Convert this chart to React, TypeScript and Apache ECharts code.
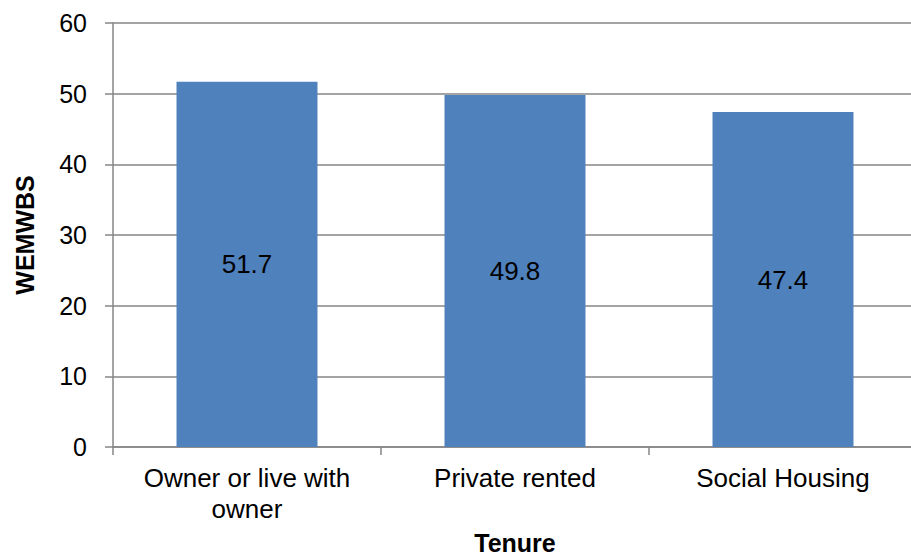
import React, { useEffect, useRef } from "react";
import * as echarts from "echarts";

const categories = ["Owner or live with\nowner", "Private rented", "Social Housing"];
const values = [51.7, 49.8, 47.4];
const yTicks = { min: 0, max: 60, interval: 10 };

export default function App() {
  const ref = useRef<HTMLDivElement>(null);
  useEffect(() => {
    const chart = echarts.init(ref.current!, null, { renderer: "svg" });
    const font = "'Liberation Sans', Arial, sans-serif";
    chart.setOption({
      animation: false,
      textStyle: { fontFamily: font },
      grid: {
        left: 113,
        top: 23,
        width: 804,
        height: 424,
        containLabel: false,
        outerBoundsMode: "none",
      },
      xAxis: {
        type: "category",
        data: categories,
        name: "Tenure",
        nameLocation: "middle",
        nameGap: 85,
        nameTextStyle: {
          fontSize: 25,
          lineHeight: 22,
          fontWeight: "bold",
          color: "#000",
          fontFamily: font,
        },
        axisLine: { lineStyle: { color: "#868686", width: 1.5 } },
        axisTick: { show: true, interval: 0, length: 8, lineStyle: { color: "#868686", width: 1.5 } },
        axisLabel: {
          interval: 0,
          hideOverlap: false,
          fontSize: 26,
          color: "#000",
          margin: 15,
          lineHeight: 31,
          fontFamily: font,
        },
      },
      yAxis: {
        type: "value",
        min: yTicks.min,
        max: yTicks.max,
        interval: yTicks.interval,
        name: "WEMWBS",
        nameLocation: "middle",
        nameGap: 76,
        nameTextStyle: { fontSize: 25, fontWeight: "bold", color: "#000", fontFamily: font },
        axisLine: { show: true, lineStyle: { color: "#868686", width: 1.5 } },
        axisTick: { show: true, length: 8, lineStyle: { color: "#868686", width: 1.5 } },
        axisLabel: { fontSize: 25, color: "#000", margin: 26, fontFamily: font },
        splitLine: { show: true, lineStyle: { color: "#868686", width: 1.5 } },
      },
      series: [
        {
          type: "bar",
          data: values,
          barWidth: "52.6%",
          itemStyle: { color: "#4F81BD" },
          label: {
            show: true,
            position: "inside",
            fontSize: 26,
            color: "#000",
            fontFamily: font,
            formatter: (p: any) => p.value.toFixed(1),
          },
        },
      ],
    });
    return () => chart.dispose();
  }, []);
  return (
    <div
      ref={ref}
      style={{ position: "fixed", left: 0, top: 0, width: 911, height: 558, background: "#fff" }}
    />
  );
}
